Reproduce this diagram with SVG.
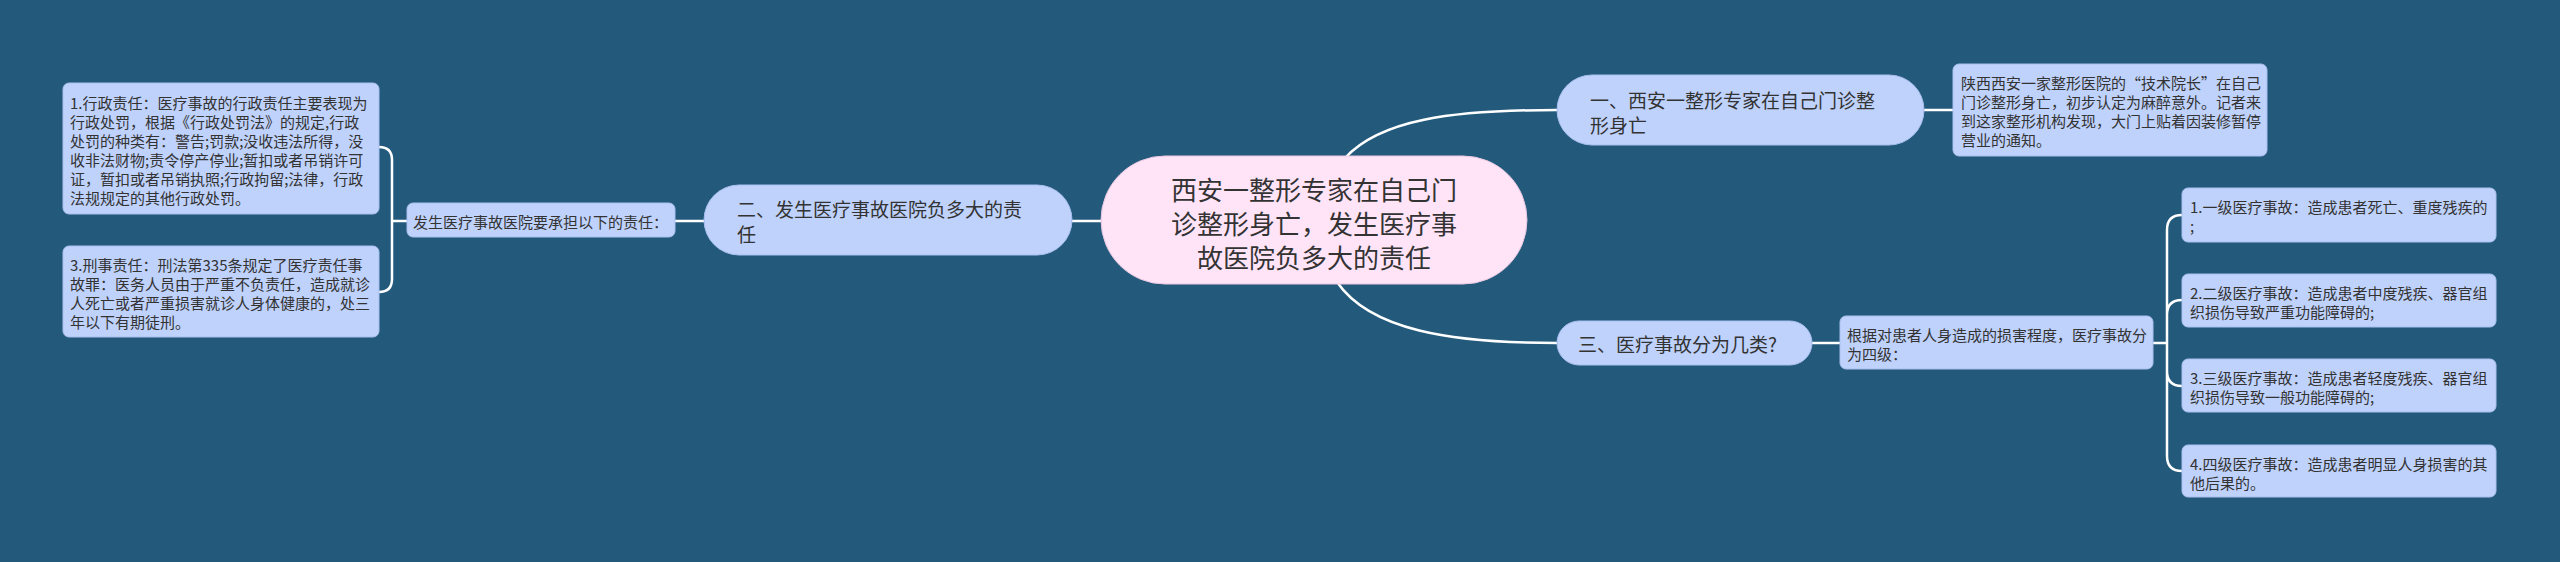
<svg xmlns="http://www.w3.org/2000/svg" width="2560" height="562" viewBox="0 0 2560 562">
<style>
text{font-family:"Noto Sans CJK SC","Noto Sans",sans-serif;fill:#333;dominant-baseline:central}
.s{font-size:15px}.m{font-size:19px}.c{font-size:26px;text-anchor:middle}
.b{fill:#BFD2FC;stroke:#A9BFEF;stroke-width:1}
.l{fill:none;stroke:#fff;stroke-width:2.5}
</style>
<rect width="2560" height="562" fill="#235A7C"/>
<g id="connectors" class="l">
<path d="M1345,158 C1380,120 1450,110 1557,110"/>
<path d="M1337,282 C1370,330 1450,343 1557,343"/>
<path d="M1072,221 L1101,221"/>
<path d="M675,221 L704,221"/>
<path d="M379,147 Q392,147 392,160 L392,279 Q392,292 379,292 M392,221 L407,221"/>
<path d="M1924,110 L1953,110"/>
<path d="M1812,343 L1840,343"/>
<path d="M2153,343 L2167,343 M2182,215 Q2167,215 2167,230 L2167,456 Q2167,471 2182,471 M2182,300 Q2167,300 2167,315 M2182,386 Q2167,386 2167,371"/>
</g>
<g id="center"><rect x="1101" y="156" width="426" height="128" rx="64" fill="#FFE4F8" stroke="#E8C8E0"/>
<text class="c" x="1314" y="188">西安一整形专家在自己门</text><text class="c" x="1314" y="222">诊整形身亡，发生医疗事</text><text class="c" x="1314" y="256">故医院负多大的责任</text></g>
<g id="n1"><rect class="b" x="1557" y="75" width="367" height="70" rx="35"/><text class="m" x="1590" y="99">一、西安一整形专家在自己门诊整</text><text class="m" x="1590" y="124">形身亡</text></g>
<g id="n1d"><rect class="b" x="1953" y="64" width="314" height="92" rx="6"/><text class="s" x="1961" y="82">陕西西安一家整形医院的“技术院长”在自己</text><text class="s" x="1961" y="101">门诊整形身亡，初步认定为麻醉意外。记者来</text><text class="s" x="1961" y="120">到这家整形机构发现，大门上贴着因装修暂停</text><text class="s" x="1961" y="139">营业的通知。</text></g>
<g id="n2"><rect class="b" x="704" y="185" width="368" height="70" rx="35"/><text class="m" x="737" y="208">二、发生医疗事故医院负多大的责</text><text class="m" x="737" y="233">任</text></g>
<g id="n2a"><rect class="b" x="407" y="203" width="268" height="34" rx="6"/><text class="s" x="413" y="221">发生医疗事故医院要承担以下的责任：</text></g>
<g id="n2b"><rect class="b" x="63" y="83" width="316" height="131" rx="6"/>
<text class="s" x="70" y="102">1.行政责任：医疗事故的行政责任主要表现为</text><text class="s" x="70" y="121">行政处罚，根据《行政处罚法》的规定,行政</text><text class="s" x="70" y="140">处罚的种类有：警告;罚款;没收违法所得，没</text><text class="s" x="70" y="159">收非法财物;责令停产停业;暂扣或者吊销许可</text><text class="s" x="70" y="178">证，暂扣或者吊销执照;行政拘留;法律，行政</text><text class="s" x="70" y="197">法规规定的其他行政处罚。</text></g>
<g id="n2c"><rect class="b" x="63" y="246" width="316" height="91" rx="6"/>
<text class="s" x="70" y="264">3.刑事责任：刑法第335条规定了医疗责任事</text><text class="s" x="70" y="283">故罪：医务人员由于严重不负责任，造成就诊</text><text class="s" x="70" y="302">人死亡或者严重损害就诊人身体健康的，处三</text><text class="s" x="70" y="321">年以下有期徒刑。</text></g>
<g id="n3"><rect class="b" x="1557" y="321" width="255" height="44" rx="22"/><text class="m" x="1578" y="343">三、医疗事故分为几类?</text></g>
<g id="n3a"><rect class="b" x="1840" y="316" width="313" height="53" rx="6"/><text class="s" x="1847" y="334">根据对患者人身造成的损害程度，医疗事故分</text><text class="s" x="1847" y="353">为四级：</text></g>
<g id="r1"><rect class="b" x="2182" y="188" width="314" height="54" rx="6"/><text class="s" x="2190" y="206">1.一级医疗事故：造成患者死亡、重度残疾的</text><text class="s" x="2190" y="225">;</text></g>
<g id="r2"><rect class="b" x="2182" y="274" width="314" height="53" rx="6"/><text class="s" x="2190" y="292">2.二级医疗事故：造成患者中度残疾、器官组</text><text class="s" x="2190" y="311">织损伤导致严重功能障碍的;</text></g>
<g id="r3"><rect class="b" x="2182" y="359" width="314" height="53" rx="6"/><text class="s" x="2190" y="377">3.三级医疗事故：造成患者轻度残疾、器官组</text><text class="s" x="2190" y="396">织损伤导致一般功能障碍的;</text></g>
<g id="r4"><rect class="b" x="2182" y="445" width="314" height="52" rx="6"/><text class="s" x="2190" y="463">4.四级医疗事故：造成患者明显人身损害的其</text><text class="s" x="2190" y="482">他后果的。</text></g>
</svg>
